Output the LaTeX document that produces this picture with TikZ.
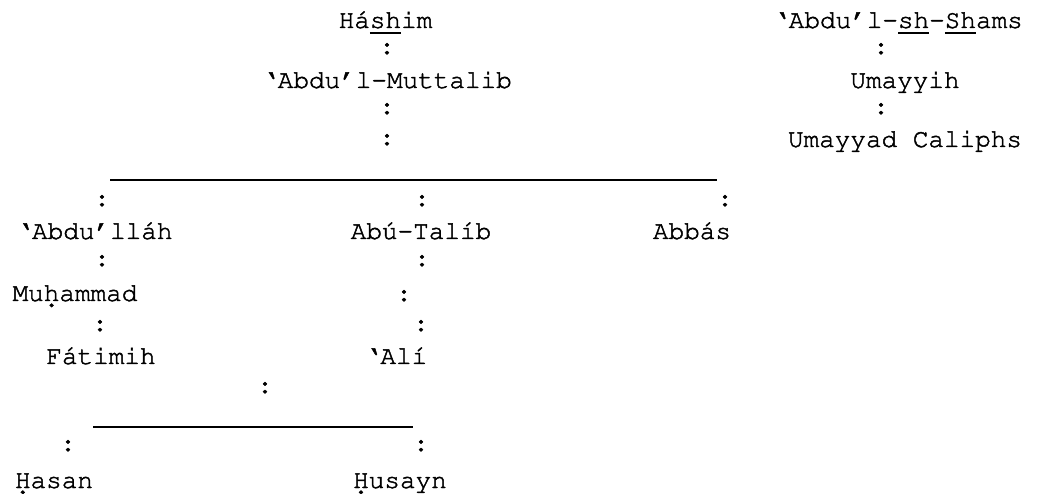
\documentclass[tikz,border=0pt]{standalone}
\usepackage[T1]{fontenc}
\usepackage{courier}
\tikzset{every picture/.style={line width=0.75pt}}
\newcommand{\treefont}{\fontencoding{T1}\fontfamily{pcr}\fontsize{26}{30}\selectfont\special{pdf:code 2 Tr 0.45 w}}
\newcommand{\undl}[1]{\setbox0\hbox{#1}\rlap{\rule[-6.5pt]{\wd0}{2.2pt}}\box0}
\tikzset{
  txt/.style={anchor=base, inner sep=0pt, outer sep=0pt, font=\treefont},
  bar/.style={line width=1.3pt}
}
\begin{document}
\begin{tikzpicture}[x=1pt,y=1pt,yscale=-1]
	\useasboundingbox (0,0) rectangle (1037,494);
	\fill[white] (0,0) rectangle (1037,494);

	% Text Node
	\node[txt] (hashim) at (385.5,28) {H\'a\undl{sh}im};
	% Text Node
	\node[txt] (shams) at (898,28) {`Abdu'l-\undl{sh}-\undl{Sh}ams};
	% Text Node
	\node[txt] (c1) at (387,54) {:};
	% Text Node
	\node[txt] (c2) at (881,54) {:};
	% Text Node
	\node[txt] (muttalib) at (387,88) {`Abdu'l-Muttalib};
	% Text Node
	\node[txt] (umayyih) at (905,88) {Umayyih};
	% Text Node
	\node[txt] (c3) at (387,114) {:};
	% Text Node
	\node[txt] (c4) at (881,114) {:};
	% Text Node
	\node[txt] (c5) at (387,145) {:};
	% Text Node
	\node[txt] (caliphs) at (905,147) {Umayyad Caliphs};

	%Straight Lines
	\coordinate (ba) at (110,180);
	\coordinate (bb) at (717,180);
	\draw[bar] (ba) -- (bb);

	% Text Node
	\node[txt] (c6) at (102,206) {:};
	% Text Node
	\node[txt] (c7) at (422,206) {:};
	% Text Node
	\node[txt] (c8) at (725,206) {:};
	% Text Node
	\node[txt] (abdullah) at (94.5,239) {`Abdu'll\'ah};
	% Text Node
	\node[txt] (abutalib) at (421,239) {Ab\'u-Tal\'\i b};
	% Text Node
	\node[txt] (abbas) at (692,239) {Abb\'as};
	% Text Node
	\node[txt] (c9) at (102,266) {:};
	% Text Node
	\node[txt] (c10) at (422,266) {:};
	% Text Node
	\node[txt] (muhammad) at (75,301) {Mu\d{h}ammad};
	% Text Node
	\node[txt] (c11) at (404,301) {:};
	% Text Node
	\node[txt] (c12) at (100,331) {:};
	% Text Node
	\node[txt] (c13) at (421,331) {:};
	% Text Node
	\node[txt] (fatimih) at (101,364) {F\'atimih};
	% Text Node
	\node[txt] (ali) at (396,364) {`Al\'\i};
	% Text Node
	\node[txt] (c14) at (265,393) {:};

	%Straight Lines
	\coordinate (bc) at (93,427);
	\coordinate (bd) at (413,427);
	\draw[bar] (bc) -- (bd);

	% Text Node
	\node[txt] (c15) at (68,451) {:};
	% Text Node
	\node[txt] (c16) at (421,451) {:};
	% Text Node
	\node[txt] (hasan) at (54,488) {\d{H}asan};
	% Text Node
	\node[txt] (husayn) at (400,488) {\d{H}usayn};

\end{tikzpicture}
\end{document}
